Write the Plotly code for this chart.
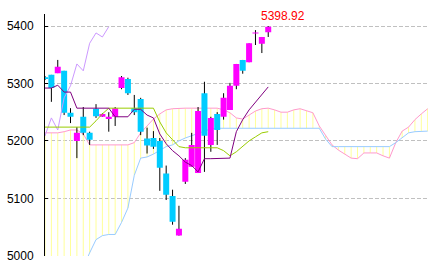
import plotly.graph_objects as go

# ---- data ----
candle_x = list(range(-1, 35))
open_ = [5311, 5315, 5318, 5322, 5249, 5200, 5242, 5214, 5256, 5242, 5238, 5242,
         5292, 5308, 5257, 5273, 5204, 5205, 5200, 5143, 5104, 5035, 5129, 5155,
         5144, 5283, 5193, 5247, 5242, 5254, 5296, 5341, 5337, 5388, 5369, 5389]
high = [5313, 5315, 5341, 5322, 5257, 5224, 5259, 5216, 5264, 5248, 5250, 5259,
        5313, 5310, 5280, 5275, 5223, 5217, 5205, 5157, 5115, 5087, 5170, 5214,
        5259, 5303, 5242, 5250, 5283, 5301, 5334, 5341, 5370, 5393, 5381, 5400]
low = [5306, 5268, 5318, 5245, 5231, 5170, 5210, 5193, 5240, 5242, 5216, 5226,
       5290, 5280, 5245, 5210, 5178, 5186, 5113, 5097, 5054, 5035, 5125, 5155,
       5144, 5146, 5181, 5193, 5237, 5254, 5290, 5317, 5337, 5367, 5353, 5381]
close = [5308, 5292, 5329, 5249, 5242, 5214, 5214, 5202, 5243, 5247, 5242, 5257,
         5311, 5283, 5250, 5216, 5192, 5190, 5153, 5106, 5059, 5047, 5167, 5193,
         5252, 5209, 5240, 5219, 5275, 5296, 5334, 5322, 5370, 5388, 5381, 5398.92]

tenkan = [5292, 5292, 5297, 5285, 5285, 5257, 5257, 5257, 5257, 5257, 5257, 5242,
          5242, 5242, 5255, 5255, 5245, 5240, 5212, 5195, 5183, 5174, 5163, 5157,
          5146, 5169, 5169, 5169, 5169, 5170, 5216, 5237, 5254, 5268, 5282, 5294]
kijun = [5224, 5224, 5224, 5224, 5224, 5224, 5224, 5224, 5235, 5247, 5257, 5257,
         5257, 5257, 5257, 5257, 5257, 5257, 5233, 5214, 5202, 5190, 5188, 5188,
         5188, 5188, 5188, 5188, 5183, 5174, 5181, 5191, 5200, 5207, 5214, 5216]

cloud_x = list(range(-1, 60))
span_a = [5214, 5214, 5214, 5216, 5219, 5219, 5212, 5193, 5193, 5193, 5193, 5193,
          5193, 5193, 5197, 5214, 5226, 5238, 5247, 5254, 5256, 5257, 5257, 5257,
          5257, 5257, 5257, 5257, 5254, 5249, 5240, 5238, 5245, 5252, 5256, 5257,
          5254, 5250, 5250, 5254, 5256, 5252, 5249, 5226, 5209, 5193, 5184, 5177,
          5170, 5169, 5179, 5179, 5179, 5174, 5170, 5197, 5217, 5224, 5237, 5247,
          5256]
span_b = [4980, 4980, 4980, 4980, 4980, 4980, 4980, 5005, 5028, 5035, 5037, 5037,
          5058, 5083, 5140, 5170, 5172, 5177, 5184, 5190, 5193, 5200, 5205, 5209,
          5212, 5217, 5221, 5222, 5222, 5222, 5222, 5222, 5222, 5222, 5222, 5222,
          5222, 5222, 5222, 5222, 5222, 5222, 5222, 5222, 5203, 5190, 5190, 5190,
          5190, 5190, 5190, 5190, 5190, 5190, 5190, 5197, 5205, 5214, 5216, 5217,
          5217]
chikou_shift = 25
y_ticks = [5000, 5100, 5200, 5300, 5400]

UP = "#ff00ff"
DOWN = "#00ccff"
HALF_W = 0.47
MIN_H = 1.7

fig = go.Figure()

# cloud hatch (vertical lines between the two spans)
hx, hy = [], []
for x, a, b in zip(cloud_x, span_a, span_b):
    hx += [x, x, None]
    hy += [a, b, None]
fig.add_trace(go.Scatter(x=hx, y=hy, mode="lines",
                         line=dict(color="#ffff99", width=1), hoverinfo="skip"))
fig.add_trace(go.Scatter(x=cloud_x, y=span_a, mode="lines",
                         line=dict(color="#ff99cc", width=1)))
fig.add_trace(go.Scatter(x=cloud_x, y=span_b, mode="lines",
                         line=dict(color="#99ccff", width=1)))

# wicks
wx, wy = [], []
for x, h, l in zip(candle_x, high, low):
    wx += [x, x, None]
    wy += [l, h, None]
fig.add_trace(go.Scatter(x=wx, y=wy, mode="lines",
                         line=dict(color="black", width=1), hoverinfo="skip"))

# bodies as filled rectangles (scatter layer, so they sit above the cloud)
for want_up, col in ((True, UP), (False, DOWN)):
    bx, by = [], []
    for x, o, c in zip(candle_x, open_, close):
        if (c >= o) != want_up:
            continue
        lo, hi = min(o, c), max(o, c)
        if hi - lo < MIN_H:
            mid = (hi + lo) / 2
            lo, hi = mid - MIN_H / 2, mid + MIN_H / 2
        bx += [x - HALF_W, x + HALF_W, x + HALF_W, x - HALF_W, x - HALF_W, None]
        by += [lo, lo, hi, hi, lo, None]
    fig.add_trace(go.Scatter(x=bx, y=by, mode="lines", fill="toself",
                             fillcolor=col, line=dict(color=col, width=0),
                             hoverinfo="skip"))

# chikou span
fig.add_trace(go.Scatter(x=[x - chikou_shift for x in candle_x], y=close,
                         mode="lines", line=dict(color="#cc99ff", width=1)))
# kijun / tenkan
fig.add_trace(go.Scatter(x=candle_x, y=kijun, mode="lines",
                         line=dict(color="#99cc00", width=1)))
fig.add_trace(go.Scatter(x=candle_x, y=tenkan, mode="lines",
                         line=dict(color="#800080", width=1)))

fig.add_annotation(x=32.55, y=5417, xref="x", yref="y", text=f"{close[-1]:.2f}",
                   showarrow=False, xanchor="left", yanchor="middle",
                   font=dict(family="Liberation Sans", size=12, color="#ff0000"))

fig.update_layout(
    width=433, height=270,
    margin=dict(l=45, r=5, t=14, b=14),
    paper_bgcolor="white", plot_bgcolor="white",
    showlegend=False,
    xaxis=dict(range=[-1.0, 59.05], visible=False),
    yaxis=dict(range=[4999.5, 5421], tickvals=y_ticks,
               showline=True, linecolor="black", linewidth=1,
               ticks="inside", ticklen=3, tickcolor="black", tickwidth=1,
               showgrid=True, gridcolor="#c0c0c0", gridwidth=1, griddash="4px,2px",
               zeroline=False, ticklabelstandoff=8,
               tickfont=dict(family="Liberation Sans", size=12, color="black")),
)

fig.write_html("out.html")
